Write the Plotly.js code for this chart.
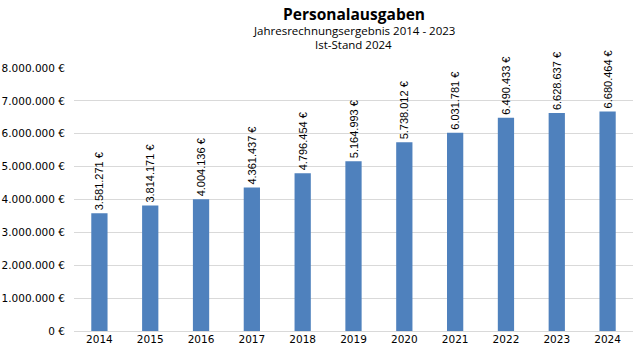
<!DOCTYPE html>
<html><head><meta charset="utf-8">
<script src="https://cdn.plot.ly/plotly-3.0.1.min.js"></script>
<style>html,body{margin:0;padding:0;background:#fff}#c{width:643px;height:360px}</style>
</head><body><div id="c"></div>
<script>
const years = ['2014','2015','2016','2017','2018','2019','2020','2021','2022','2023','2024'];
const values = [3581271,3814171,4004136,4361437,4796454,5164993,5738012,6031781,6490433,6628637,6680464];
const tickVals = [0,1000000,2000000,3000000,4000000,5000000,6000000,7000000,8000000];
const tickText = ['0 €','1.000.000 €','2.000.000 €','3.000.000 €','4.000.000 €','5.000.000 €','6.000.000 €','7.000.000 €','8.000.000 €'];
const titleMain = 'Personalausgaben';
const titleSub1 = 'Jahresrechnungsergebnis 2014 - 2023';
const titleSub2 = 'Ist-Stand 2024';
function fmt(v){return v.toString().replace(/\B(?=(\d{3})+(?!\d))/g,'.')+' €';}
const trace = {
  type:'bar', x:years, y:values,
  marker:{color:'#4F81BD'},
  width:0.32,
  text:values.map(fmt), textposition:'outside', textangle:-90, constraintext:'none',
  textfont:{family:'Liberation Sans, Arial, sans-serif', size:11, color:'#000'},
  cliponaxis:false, hoverinfo:'none'
};
const tf = {family:'Open Sans, sans-serif', color:'#000'};
function ann(text, ypx, size, bold){
  return {text: bold?'<b>'+text+'</b>':text, xref:'paper', yref:'paper', x:0.5, xanchor:'center',
    y: (360-ypx-29)/(360-68-29), yanchor:'middle', showarrow:false, font:Object.assign({size:size},tf)};
}
const layout = {
  width:643, height:360,
  margin:{l:74,r:10,t:68,b:29},
  paper_bgcolor:'#fff', plot_bgcolor:'#fff',
  showlegend:false,
  annotations:[ann(titleMain,14,15.5,true), ann(titleSub1,30,11.5,false), ann(titleSub2,44,11.5,false)],
  xaxis:{type:'category', showgrid:false, zeroline:false, showline:false, ticks:'',
    tickfont:{family:'DejaVu Sans, Verdana, sans-serif', size:10.5, color:'#000'}},
  yaxis:{range:[0,8000000], tickvals:tickVals, ticktext:tickText, showgrid:true, gridcolor:'#D9D9D9', gridwidth:1,
    zeroline:true, zerolinecolor:'#D9D9D9', showline:false, ticks:'', ticklabelstandoff:8,
    tickfont:{family:'DejaVu Sans, Verdana, sans-serif', size:10.5, color:'#000'}}
};
Plotly.newPlot('c',[trace],layout,{staticPlot:true,displayModeBar:false});
</script></body></html>
